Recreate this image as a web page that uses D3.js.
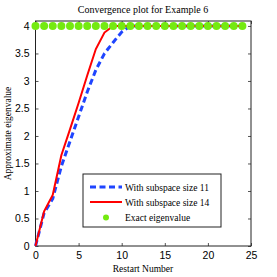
<!DOCTYPE html>
<html>
<head>
<meta charset="utf-8">
<script src="https://cdn.jsdelivr.net/npm/d3@7"></script>
<style>
  body { margin: 0; background: #fff; }
  .serif { font-family: "Liberation Serif", "DejaVu Serif", serif; }
  .tick text { font-family: "Liberation Sans", Arial, sans-serif; font-size: 10.5px; fill: #000; }
</style>
</head>
<body>
<svg width="277" height="277"></svg>
<script>
// restart number vs approximate eigenvalue
const restarts = d3.range(0, 25)
const size11 = [0, 0.6, 0.86, 1.45, 1.9, 2.35, 2.8, 3.2, 3.5, 3.7, 3.89, 4, 4, 4, 4, 4, 4, 4, 4, 4, 4, 4, 4, 4, 4]
const size14 = [0, 0.63, 0.93, 1.65, 2.12, 2.6, 3.1, 3.58, 3.88, 4, 4, 4, 4, 4, 4, 4, 4, 4, 4, 4, 4, 4, 4, 4, 4]
const exact = restarts.map(() => 4)
const xTicks = [0, 5, 10, 15, 20, 25]
const yTicks = [0, 0.5, 1, 1.5, 2, 2.5, 3, 3.5, 4]
const legendLabels = ['With subspace size 11', 'With subspace size 14', 'Exact eigenvalue']

const svg = d3.select('svg')
const mLeft = 35.5, mRight = 251, mTop = 21, mBottom = 246

const x = d3.scaleLinear().domain([0, 25]).range([mLeft, mRight])
const y = d3.scaleLinear().domain([0, 4.09]).range([mBottom, mTop])

// ticks inside the box, on all four sides
svg.append('g')
  .attr('transform', `translate(0,${mBottom})`)
  .call(d3.axisBottom(x).tickValues(xTicks).tickSizeInner(-3).tickSizeOuter(0).tickPadding(6).tickFormat(d => d))
svg.append('g')
  .attr('transform', `translate(0,${mTop})`)
  .call(d3.axisTop(x).tickValues(xTicks).tickSizeInner(-3).tickSizeOuter(0).tickFormat(''))
svg.append('g')
  .attr('transform', `translate(${mLeft},0)`)
  .call(d3.axisLeft(y).tickValues(yTicks).tickSizeInner(-3).tickSizeOuter(0).tickPadding(6).tickFormat(d => d))
svg.append('g')
  .attr('transform', `translate(${mRight},0)`)
  .call(d3.axisRight(y).tickValues(yTicks).tickSizeInner(-3).tickSizeOuter(0).tickFormat(''))
svg.selectAll('.domain').remove()
svg.selectAll('.tick line').attr('stroke', '#555')

svg.append('rect')
  .attr('x', mLeft).attr('y', mTop)
  .attr('width', mRight - mLeft).attr('height', mBottom - mTop)
  .attr('fill', 'none').attr('stroke', '#222').attr('stroke-width', 1)

const line = d3.line().x((d, i) => x(restarts[i])).y(d => y(d))

svg.append('path')
  .datum(size11)
  .attr('d', line)
  .attr('fill', 'none')
  .attr('stroke', '#1f45ff')
  .attr('stroke-width', 3)
  .attr('stroke-dasharray', '6,3.5')

svg.append('path')
  .datum(size14)
  .attr('d', line)
  .attr('fill', 'none')
  .attr('stroke', '#ff0000')
  .attr('stroke-width', 2)

svg.append('g')
  .selectAll('circle')
  .data(exact)
  .enter()
  .append('circle')
  .attr('cx', (d, i) => x(restarts[i]))
  .attr('cy', d => y(d))
  .attr('r', 4)
  .attr('fill', '#74ea10')

// legend
const lg = svg.append('g')
lg.append('rect')
  .attr('x', 83).attr('y', 174).attr('width', 138).attr('height', 53)
  .attr('fill', '#fff').attr('stroke', '#222').attr('stroke-width', 1)
lg.append('line')
  .attr('x1', 90).attr('x2', 122).attr('y1', 187).attr('y2', 187)
  .attr('stroke', '#1f45ff').attr('stroke-width', 3).attr('stroke-dasharray', '6,3.5')
lg.append('line')
  .attr('x1', 90).attr('x2', 122).attr('y1', 202).attr('y2', 202)
  .attr('stroke', '#ff0000').attr('stroke-width', 2)
lg.append('circle')
  .attr('cx', 106).attr('cy', 217.5).attr('r', 3)
  .attr('fill', '#74ea10')
lg.selectAll('text')
  .data(legendLabels)
  .enter()
  .append('text')
  .attr('class', 'serif')
  .attr('x', 125)
  .attr('y', (d, i) => 190.5 + i * 15.3)
  .attr('font-size', 9.5)
  .text(d => d)

svg.append('text')
  .attr('class', 'serif')
  .attr('x', 143).attr('y', 13)
  .attr('text-anchor', 'middle')
  .attr('font-size', 10)
  .text('Convergence plot for Example 6')

svg.append('text')
  .attr('class', 'serif')
  .attr('x', 143).attr('y', 272)
  .attr('text-anchor', 'middle')
  .attr('font-size', 9.5)
  .text('Restart Number')

svg.append('text')
  .attr('class', 'serif')
  .attr('transform', `translate(11,${(mTop + mBottom) / 2}) rotate(-90)`)
  .attr('text-anchor', 'middle')
  .attr('font-size', 9.5)
  .text('Approximate eigenvalue')
</script>
</body>
</html>
